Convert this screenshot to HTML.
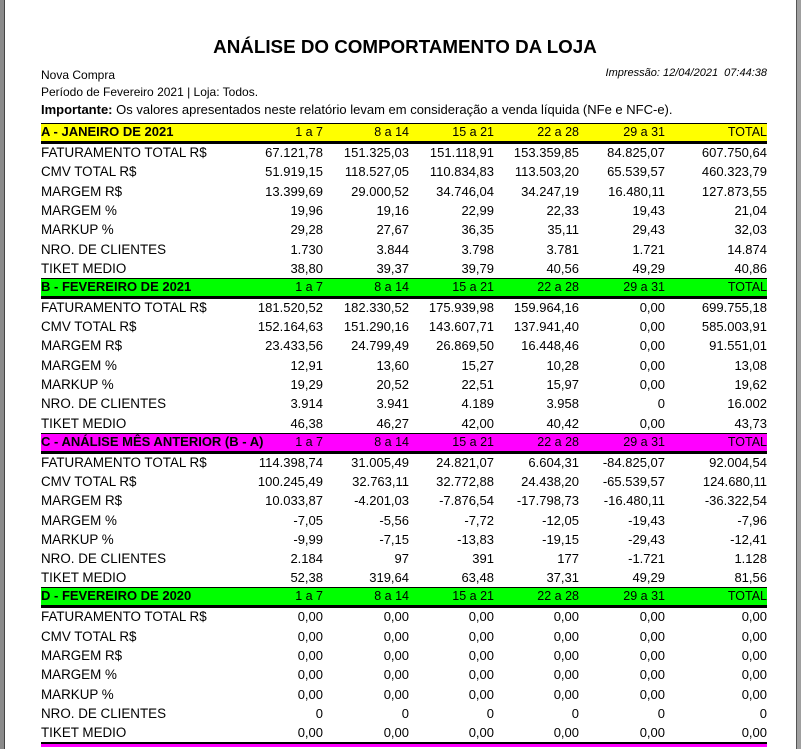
<!DOCTYPE html>
<html><head><meta charset="utf-8">
<style>
body{margin:0;width:801px;height:749px;background:#fff;position:relative;overflow:hidden;font-family:"Liberation Sans",Arial,sans-serif;color:#000}
.a{position:absolute;white-space:nowrap}
.lbl{font-size:13.4px;left:41px}
.num{font-size:13px;text-align:right}
.band{position:absolute;left:41px;width:726px;height:17px;border-top:1px solid #000;border-bottom:3px solid #000}
.ht{font-size:13px;font-weight:bold}
.hc{font-size:12.5px;text-align:right}
</style></head><body>
<div class="a" style="left:0;top:0;width:4px;height:749px;background:#8a8a8a;border-right:1px solid #444"></div>
<div class="a" style="left:796px;top:0;width:5px;height:749px;background:#a0a0a0;border-left:1px solid #555"></div>
<div class="a" style="left:0;width:810px;text-align:center;top:36px;font-size:18.8px;font-weight:bold">ANÁLISE DO COMPORTAMENTO DA LOJA</div>
<div class="a" style="left:41px;top:68px;font-size:12px">Nova Compra</div>
<div class="a" style="left:41px;top:85px;font-size:12px">Período de Fevereiro 2021 | Loja: Todos.</div>
<div class="a" style="right:34px;top:67px;font-size:11px;font-style:italic">Impressão: 12/04/2021&nbsp; 07:44:38</div>
<div class="a" style="left:41px;top:102px;font-size:13px"><b>Importante:</b> Os valores apresentados neste relatório levam em consideração a venda líquida (NFe e NFC-e).</div>
<div id="root"></div>
<div class="a" style="left:41px;top:742px;width:726px;height:2px;background:#000"></div>
<div class="a" style="left:41px;top:744px;width:726px;height:3px;background:#ff00ff"></div>
<script>
const periods=["1 a 7","8 a 14","15 a 21","22 a 28","29 a 31","TOTAL"];
const rowLabels=["FATURAMENTO TOTAL R$","CMV TOTAL R$","MARGEM R$","MARGEM %","MARKUP %","NRO. DE CLIENTES","TIKET MEDIO"];
const sectionTitles=["A - JANEIRO DE 2021","B - FEVEREIRO DE 2021","C - ANÁLISE MÊS ANTERIOR (B - A)","D - FEVEREIRO DE 2020"];
const sectionColors=["#ffff00","#00ff00","#ff00ff","#00ff00"];
const secA=[["67.121,78","151.325,03","151.118,91","153.359,85","84.825,07","607.750,64"],["51.919,15","118.527,05","110.834,83","113.503,20","65.539,57","460.323,79"],["13.399,69","29.000,52","34.746,04","34.247,19","16.480,11","127.873,55"],["19,96","19,16","22,99","22,33","19,43","21,04"],["29,28","27,67","36,35","35,11","29,43","32,03"],["1.730","3.844","3.798","3.781","1.721","14.874"],["38,80","39,37","39,79","40,56","49,29","40,86"]];
const secB=[["181.520,52","182.330,52","175.939,98","159.964,16","0,00","699.755,18"],["152.164,63","151.290,16","143.607,71","137.941,40","0,00","585.003,91"],["23.433,56","24.799,49","26.869,50","16.448,46","0,00","91.551,01"],["12,91","13,60","15,27","10,28","0,00","13,08"],["19,29","20,52","22,51","15,97","0,00","19,62"],["3.914","3.941","4.189","3.958","0","16.002"],["46,38","46,27","42,00","40,42","0,00","43,73"]];
const secC=[["114.398,74","31.005,49","24.821,07","6.604,31","-84.825,07","92.004,54"],["100.245,49","32.763,11","32.772,88","24.438,20","-65.539,57","124.680,11"],["10.033,87","-4.201,03","-7.876,54","-17.798,73","-16.480,11","-36.322,54"],["-7,05","-5,56","-7,72","-12,05","-19,43","-7,96"],["-9,99","-7,15","-13,83","-19,15","-29,43","-12,41"],["2.184","97","391","177","-1.721","1.128"],["52,38","319,64","63,48","37,31","49,29","81,56"]];
const secD=[["0,00","0,00","0,00","0,00","0,00","0,00"],["0,00","0,00","0,00","0,00","0,00","0,00"],["0,00","0,00","0,00","0,00","0,00","0,00"],["0,00","0,00","0,00","0,00","0,00","0,00"],["0,00","0,00","0,00","0,00","0,00","0,00"],["0","0","0","0","0","0"],["0,00","0,00","0,00","0,00","0,00","0,00"]];
const sections=[secA,secB,secC,secD];
const colRight=[323,409,494,579,665,767];
const root=document.getElementById('root');
const secTop=123, secStep=154.8, rowStep=19.3;
function mk(cls,text,style){const d=document.createElement('div');d.className='a '+cls;d.textContent=text;d.style.cssText=style;root.appendChild(d);return d;}
sections.forEach((sec,s)=>{
  const top=secTop+s*secStep;
  const b=document.createElement('div');b.className='band';b.style.top=top+'px';b.style.background=sectionColors[s];
  
  
  root.appendChild(b);
  const t=mk('ht',sectionTitles[s],'left:41px;top:'+(top+1)+'px');
  
  
  periods.forEach((p,c)=>{
    const h=mk('hc',p,'right:'+(801-colRight[c])+'px;top:'+(top+2)+'px');
    
    
  });
  sec.forEach((row,r)=>{
    const y=top+22+r*rowStep;
    const l=mk('lbl',rowLabels[r],'top:'+y+'px');
    
    
    row.forEach((v,c)=>{
      const n=mk('num',v,'right:'+(801-colRight[c])+'px;top:'+y+'px');
      
      
    });
  });
});
</script>
</body></html>
